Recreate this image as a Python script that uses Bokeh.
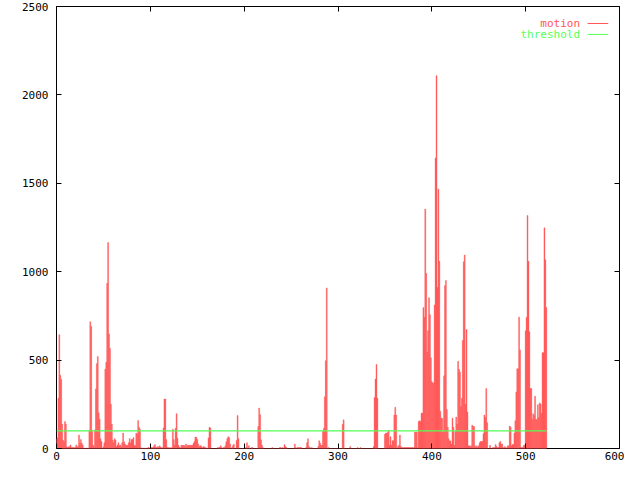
from bokeh.plotting import figure
from bokeh.models import (Range1d, LinearAxis, FixedTicker, Label, Arrow, ColumnDataSource,
                          CustomLabelingPolicy)
from bokeh.embed import file_html
from bokeh.resources import INLINE

# motion value per frame
motion = [
    55, 60, 284, 644, 415, 391, 138, 47, 38, 153,
    138, 10, 5, 10, 10, 20, 5, 5, 5, 5,
    5, 20, 10, 10, 76, 29, 51, 29, 20, 2,
    2, 2, 2, 2, 2, 102, 717, 690, 102, 20,
    10, 105, 337, 480, 520, 202, 166, 55, 40, 2,
    10, 33, 448, 488, 935, 1165, 648, 566, 250, 138,
    47, 33, 55, 47, 10, 20, 33, 15, 20, 10,
    33, 87, 38, 25, 18, 18, 18, 33, 56, 33,
    51, 51, 62, 18, 15, 87, 80, 158, 120, 109,
    4, 2, 2, 2, 2, 2, 2, 2, 7, 2,
    2, 5, 5, 7, 15, 22, 7, 4, 11, 7,
    15, 7, 4, 4, 116, 280, 280, 51, 7, 4,
    4, 4, 4, 4, 109, 51, 20, 115, 197, 58,
    18, 7, 4, 18, 18, 18, 18, 11, 25, 11,
    18, 18, 18, 18, 18, 18, 29, 40, 65, 63,
    51, 25, 11, 15, 15, 7, 7, 11, 7, 4,
    2, 2, 60, 120, 116, 0, 0, 0, 0, 0,
    0, 0, 5, 5, 5, 16, 5, 0, 5, 5,
    16, 38, 56, 67, 62, 25, 0, 5, 16, 24,
    0, 0, 45, 187, 55, 0, 0, 0, 0, 0,
    0, 0, 5, 33, 0, 16, 0, 0, 5, 5,
    0, 0, 0, 0, 0, 125, 229, 191, 49, 18,
    5, 0, 0, 0, 0, 0, 0, 0, 0, 0,
    5, 0, 0, 0, 0, 0, 0, 0, 5, 5,
    0, 5, 0, 22, 11, 5, 0, 0, 0, 0,
    0, 0, 0, 0, 25, 5, 0, 5, 5, 5,
    5, 5, 0, 0, 0, 0, 5, 33, 55, 11,
    5, 0, 5, 0, 0, 0, 0, 0, 0, 11,
    44, 29, 18, 18, 96, 115, 293, 497, 908, 0,
    5, 0, 0, 0, 0, 0, 0, 0, 0, 0,
    0, 0, 0, 0, 0, 137, 162, 0, 0, 0,
    0, 0, 0, 11, 0, 0, 0, 0, 0, 0,
    0, 5, 0, 0, 5, 0, 0, 0, 0, 0,
    0, 0, 0, 0, 0, 0, 0, 0, 11, 288,
    393, 475, 284, 0, 0, 0, 0, 0, 0, 0,
    80, 87, 87, 91, 102, 18, 66, 18, 44, 44,
    189, 233, 189, 0, 11, 18, 76, 11, 5, 5,
    5, 5, 5, 5, 5, 5, 5, 5, 5, 5,
    5, 5, 93, 93, 93, 5, 153, 157, 153, 200,
    200, 797, 743, 1354, 990, 546, 666, 852, 757, 513,
    378, 371, 371, 812, 1643, 2109, 910, 1467, 1059, 211,
    171, 171, 93, 411, 921, 950, 220, 120, 55, 43,
    43, 25, 171, 120, 18, 96, 178, 138, 493, 448,
    433, 237, 284, 611, 1056, 1094, 250, 673, 207, 15,
    15, 11, 15, 131, 127, 124, 15, 7, 15, 7,
    15, 33, 40, 40, 40, 84, 189, 175, 339, 146,
    0, 0, 18, 0, 0, 5, 5, 5, 22, 11,
    5, 5, 33, 40, 25, 25, 5, 5, 11, 0,
    5, 15, 15, 127, 120, 15, 22, 22, 87, 157,
    320, 451, 451, 743, 557, 5, 5, 5, 18, 18,
    666, 743, 1318, 1059, 660, 339, 339, 164, 197, 186,
    295, 164, 164, 248, 175, 258, 251, 200, 542, 542,
    1248, 1067, 797,
]
frames = list(range(len(motion)))
threshold_level = 100
threshold = [threshold_level] * len(motion)

x_ticks = [0, 100, 200, 300, 400, 500, 600]
y_ticks = [0, 500, 1000, 1500, 2000, 2500]
series_names = ["motion", "threshold"]

RED = "#ff5555"
GREEN = "#55ff55"
FONT = "DejaVu Sans Mono"
FSIZE = "11px"

p = figure(width=624, height=464, output_backend="svg", toolbar_location=None,
           x_range=Range1d(x_ticks[0], x_ticks[-1]), y_range=Range1d(y_ticks[0], y_ticks[-1]),
           min_border_left=56, min_border_right=4, min_border_top=6, min_border_bottom=16)
p.xgrid.visible = False
p.ygrid.visible = False
p.outline_line_color = "black"
p.outline_line_alpha = 1.0
p.outline_line_width = 1
p.background_fill_color = "white"
p.border_fill_color = "white"

src = ColumnDataSource(dict(frame=frames, motion=motion, threshold=threshold))
p.vbar(x="frame", top="motion", bottom=0, width=1, source=src,
       fill_color=RED, line_color=RED, line_width=0.4)
p.line(x="frame", y="threshold", source=src, line_color=GREEN, line_width=1.2)

def style_axis(ax, ticks, show_labels):
    ax.ticker = FixedTicker(ticks=ticks)
    ax.axis_line_color = None
    ax.major_tick_in = 5
    ax.major_tick_out = 0
    ax.major_tick_line_color = "black"
    ax.minor_tick_line_color = None
    ax.major_label_text_font = FONT
    ax.major_label_text_color = "black"
    if show_labels:
        ax.major_label_text_font_size = FSIZE
    else:
        # mirrored ticks only: draw no labels at all
        ax.major_label_text_font_size = "1px"
        ax.major_label_standoff = 0
        ax.major_label_policy = CustomLabelingPolicy(code="return []")

style_axis(p.xaxis[0], x_ticks, True)
p.xaxis[0].major_label_standoff = 3
style_axis(p.yaxis[0], y_ticks, True)
p.yaxis[0].major_label_standoff = 8

right_ax = LinearAxis()
style_axis(right_ax, y_ticks, False)
p.add_layout(right_ax, "right")
top_ax = LinearAxis()
style_axis(top_ax, x_ticks, False)
p.add_layout(top_ax, "above")

# legend (gnuplot style: text then line sample)
leg_y = [2404, 2342]
leg_colors = [RED, GREEN]
for name, yy, col in zip(series_names, leg_y, leg_colors):
    p.add_layout(Label(x=558, y=yy, text=name, text_align="right", text_baseline="middle",
                       text_color=col, text_font=FONT, text_font_size=FSIZE))
    p.add_layout(Arrow(x_start=566, y_start=yy, x_end=588, y_end=yy, end=None,
                       line_color=col, line_width=1))

open("out.html", "w").write(file_html(p, INLINE))
